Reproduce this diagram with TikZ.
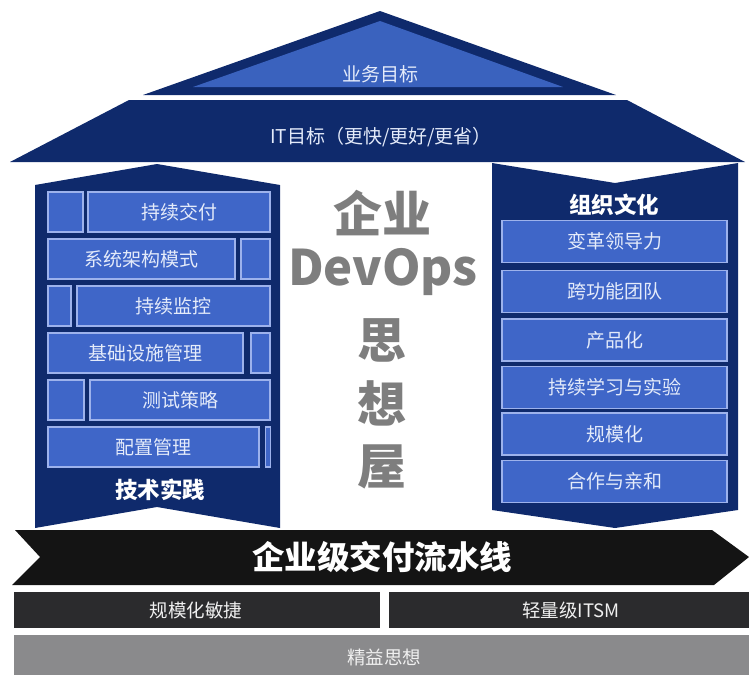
\documentclass[tikz,border=0pt]{standalone}
\usepackage{fontspec}
\setmainfont{Noto Sans CJK SC}
\definecolor{navy}{HTML}{0F2A6C}
\definecolor{brickfill}{HTML}{3F66C8}
\definecolor{brickline}{HTML}{9DB2EC}
\definecolor{bricktext}{HTML}{E4EBFA}
\definecolor{roofin}{HTML}{3A62BE}
\definecolor{bigtext}{HTML}{7E7E7E}
\definecolor{pipe}{HTML}{141414}
\definecolor{rowone}{HTML}{2B2B2D}
\definecolor{rowtwo}{HTML}{8A8A8C}
\tikzset{
  brick/.style={draw=brickline, fill=brickfill, line width=1.3pt, inner sep=0pt,
    text=bricktext, font=\fontsize{19}{19}\selectfont},
  ttl/.style={text=white, font=\bfseries\fontsize{22.5}{22.5}\selectfont},
  big/.style={text=bigtext, font=\bfseries\fontsize{49}{49}\selectfont},
  lbl/.style={text=bricktext, font=\fontsize{19}{19}\selectfont},
  barlbl/.style={text=white!88!gray, font=\fontsize{18.5}{18.5}\selectfont},
}
\begin{document}
\begin{tikzpicture}[x=1pt, y=-1pt]
\useasboundingbox (0,0) rectangle (749,675);
% roof
\fill[navy] (143,95) -- (380,11) -- (616,95) -- cycle;
\fill[roofin] (193,87) -- (380,21) -- (563,87) -- cycle;
\node[lbl] (biz) at (380,74) {业务目标};
% IT band
\fill[navy] (129,100) -- (627,100) -- (745,162) -- (10,162) -- cycle;
\node[lbl] (it) at (381,137) {IT目标（更快/更好/更省）};
% left pillar
\fill[navy] (35,185) -- (157,164) -- (280,185) -- (280,528) -- (157,507) -- (35,528) -- cycle;
\node[brick, minimum width=35pt, minimum height=40pt] (l1s) at (65.5,212) {};
\node[brick, minimum width=182pt, minimum height=40pt] (l1b) at (179,212) {持续交付};
\node[brick, minimum width=187pt, minimum height=40pt] (l2b) at (141.5,259) {系统架构模式};
\node[brick, minimum width=29pt, minimum height=40pt] (l2s) at (255.5,259) {};
\node[brick, minimum width=23pt, minimum height=40pt] (l3s) at (59.5,306) {};
\node[brick, minimum width=193pt, minimum height=40pt] (l3b) at (173.5,306) {持续监控};
\node[brick, minimum width=195pt, minimum height=40pt] (l4b) at (145.5,353) {基础设施管理};
\node[brick, minimum width=19pt, minimum height=40pt] (l4s) at (260.5,353) {};
\node[brick, minimum width=36pt, minimum height=40pt] (l5s) at (66,400) {};
\node[brick, minimum width=180pt, minimum height=40pt] (l5b) at (180,400) {测试策略};
\node[brick, minimum width=211pt, minimum height=40pt] (l6b) at (153.5,447) {配置管理};
\node[brick, minimum width=5pt, minimum height=40pt] (l6s) at (268,447) {};
\node[ttl] (tech) at (160,490) {技术实践};
% right pillar
\fill[navy] (492,163) -- (615,183) -- (738,163) -- (738,510) -- (615,528) -- (492,510) -- cycle;
\node[ttl] (org) at (614,205) {组织文化};
\node[brick, minimum width=225pt, minimum height=42pt] (r1) at (614.5,241.5) {变革领导力};
\node[brick, minimum width=225pt, minimum height=42pt] (r2) at (614.5,291.5) {跨功能团队};
\node[brick, minimum width=225pt, minimum height=42pt] (r3) at (614.5,340) {产品化};
\node[brick, minimum width=225pt, minimum height=42pt] (r4) at (614.5,387.5) {持续学习与实验};
\node[brick, minimum width=225pt, minimum height=42pt] (r5) at (614.5,434) {规模化};
\node[brick, minimum width=225pt, minimum height=42pt] (r6) at (614.5,481.5) {合作与亲和};
% center title
\node[big] (t1) at (382,213) {企业};
\node[big] (t2) at (383,272) {DevOps};
\node[big] (t3) at (382,340) {思};
\node[big] (t4) at (382,403) {想};
\node[big] (t5) at (382,467) {屋};
% pipeline
\fill[pipe] (15,530) -- (712,530) -- (749,557) -- (714,585) -- (12,585) -- (40,557) -- cycle;
\node[text=white, font=\bfseries\fontsize{32.5}{32.5}\selectfont] (pipe) at (382,557) {企业级交付流水线};
% bottom rows
\fill[rowone] (14,592) rectangle (380,628);
\fill[rowone] (389,592) rectangle (749,628);
\node[barlbl] (agile) at (196,610) {规模化敏捷};
\node[barlbl] (itsm) at (571,610) {轻量级ITSM};
\fill[rowtwo] (14,635) rectangle (749,675);
\node[barlbl] (lean) at (384,657) {精益思想};
\end{tikzpicture}
\end{document}
